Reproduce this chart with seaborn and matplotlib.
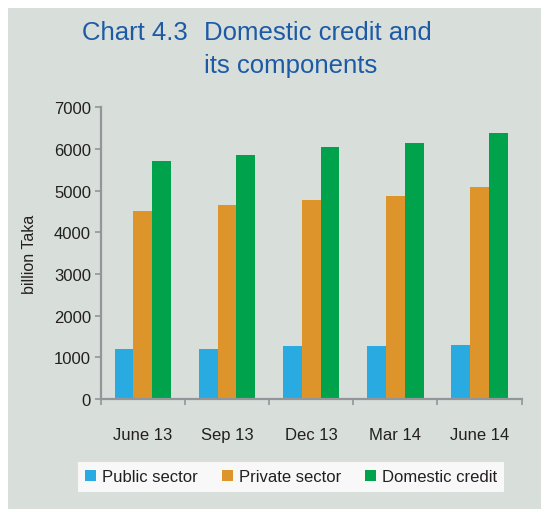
import pandas as pd
import matplotlib
matplotlib.use("Agg")
import matplotlib.pyplot as plt
from matplotlib.patches import Rectangle
from matplotlib.ticker import FixedLocator
import seaborn as sns

sns.set_theme(style="white")
plt.rcParams["font.family"] = ["Liberation Sans", "DejaVu Sans"]

BG = "#d8dfdb"
AXIS = "#939598"
TEXT = "#231f20"
TITLE = "#1d5aa6"
PALETTE = ["#29abe2", "#dd952b", "#00a34b"]

periods = ["June 13", "Sep 13", "Dec 13", "Mar 14", "June 14"]
series = ["Public sector", "Private sector", "Domestic credit"]
public_sector = [1200, 1205, 1270, 1272, 1296]
private_sector = [4520, 4655, 4785, 4865, 5080]
domestic_credit = [5712, 5858, 6050, 6145, 6385]

df = pd.DataFrame({
    "period": periods * 3,
    "series": [s for s in series for _ in periods],
    "value": public_sector + private_sector + domestic_credit,
})

fig = plt.figure(figsize=(5.41, 5.10), dpi=100, facecolor="white")
fig.patches.append(Rectangle((8 / 541, -0.01), 1, 1.01 - 9 / 510, transform=fig.transFigure,
                             facecolor=BG, edgecolor="none", zorder=-10))

ax = fig.add_axes([100.7 / 541, 110 / 510, 421 / 541, 291.7 / 510])
ax.set_facecolor("none")

sns.barplot(data=df, x="period", y="value", hue="series", order=periods,
            hue_order=series, palette=PALETTE, width=0.67, gap=0,
            saturation=1, linewidth=0, ax=ax, legend=False)

ax.set_xlim(-0.5, 4.5)
ax.set_ylim(0, 7000)
ax.set_yticks(range(0, 7001, 1000))
ax.set_xlabel("")
ax.set_ylabel("")
fig.text(30 / 541, 1 - 254 / 510, "billion Taka", rotation=90, fontsize=11.5,
         color=TEXT, ha="center", va="center")

for side in ["top", "right"]:
    ax.spines[side].set_visible(False)
for side in ["left", "bottom"]:
    ax.spines[side].set_color(AXIS)
    ax.spines[side].set_linewidth(1.6)

ax.tick_params(axis="y", which="major", direction="out", length=4, width=1.2,
               color=AXIS, labelsize=12, labelcolor=TEXT, pad=3, left=True)
ax.tick_params(axis="x", which="major", length=0, labelsize=12,
               labelcolor=TEXT, pad=20)
ax.xaxis.set_minor_locator(FixedLocator([i - 0.5 for i in range(len(periods) + 1)]))
ax.tick_params(axis="x", which="minor", direction="out", length=4, width=1.2,
               color=AXIS, bottom=True)

fig.text(82 / 541, 1 - 33 / 510, "Chart 4.3", fontsize=18.5, color=TITLE,
         va="center", ha="left")
fig.text(204 / 541, 1 - 33 / 510, "Domestic credit and", fontsize=18.5,
         color=TITLE, va="center", ha="left")
fig.text(204 / 541, 1 - 66 / 510, "its components", fontsize=18.5,
         color=TITLE, va="center", ha="left")

handles = [Rectangle((0, 0), 1, 1, facecolor=c, edgecolor="none") for c in PALETTE]
leg = fig.legend(handles, series, loc="center", ncol=3,
                 bbox_to_anchor=(291 / 541, 1 - 478 / 510), frameon=True,
                 fontsize=12, handlelength=0.65, handleheight=0.65,
                 handletextpad=0.35, columnspacing=1.45, borderpad=0.45,
                 fancybox=False)
leg.get_frame().set_facecolor("white")
leg.get_frame().set_edgecolor("white")
leg.get_frame().set_linewidth(0)
for t in leg.get_texts():
    t.set_color(TEXT)

fig.savefig("out.png", dpi=100, facecolor="white")
